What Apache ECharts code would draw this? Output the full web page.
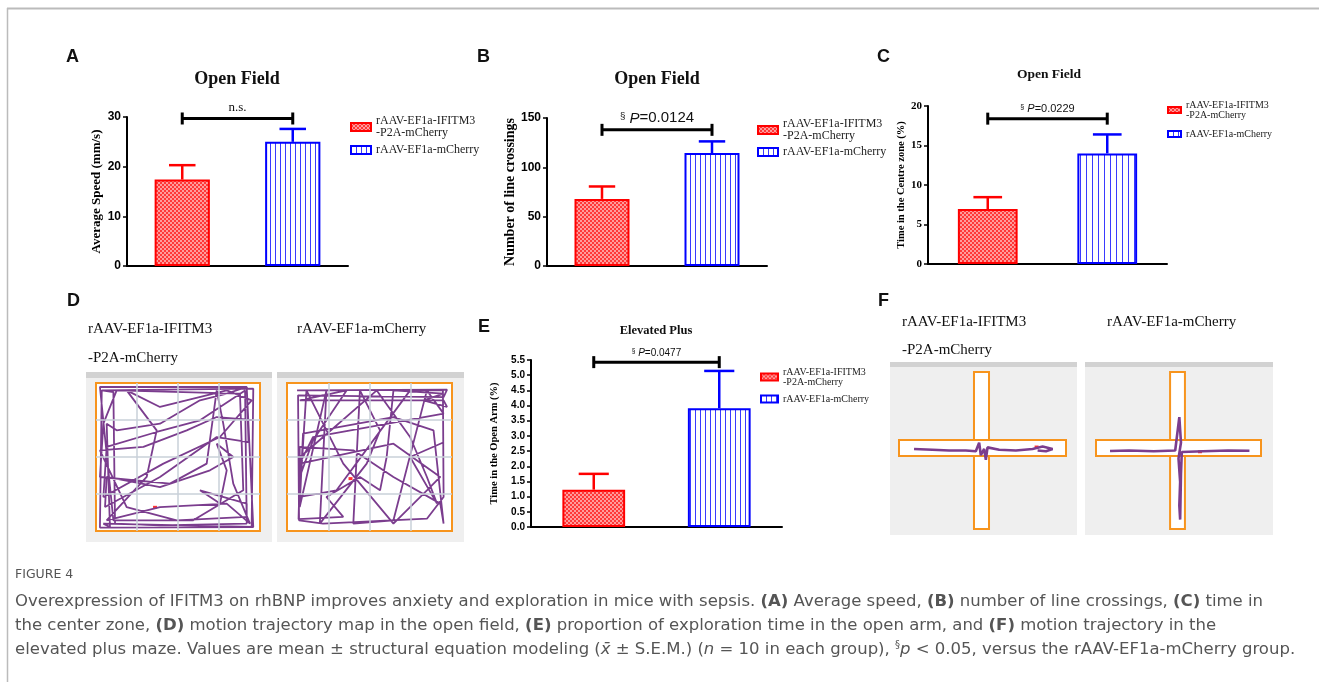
<!DOCTYPE html>
<html>
<head>
<meta charset="utf-8">
<script src="https://cdn.jsdelivr.net/npm/echarts@6/dist/echarts.min.js"></script>
<style>
  html, body { margin: 0; padding: 0; background: #fff; }
  #main { width: 1319px; height: 682px; }
</style>
</head>
<body>
<div id="main"></div>
<script>
// groups (legend names)
const groups = ['rAAV-EF1a-IFITM3\n-P2A-mCherry', 'rAAV-EF1a-mCherry'];

// A: average speed
const speedMean = [17.4, 25.0];
const speedSem = [2.9, 2.6];
// B: line crossings
const crossMean = [68, 114.5];
const crossSem = [12.6, 11.8];
// C: time in centre zone
const centreMean = [6.96, 14.0];
const centreSem = [1.5, 2.4];
// E: time in open arm
const armMean = [1.23, 3.91];
const armSem = [0.52, 1.23];

// significance brackets: height + text
const sigY = [29.7, 138, 18.4, 5.43];
const sigText = ['n.s.', '{s|§} {i|P}=0.0124', '{s|§} {i|P}=0.0229', '{s|§} {i|P}=0.0477'];

// D: open field trajectories (0-100 arena units)
const trackD1 = [[3.5,95],[95.9,96.2],[94.9,2.7],[2.4,2.3],[3.5,95],[10.6,93.9],[11.6,5],[39,3.8],[91.9,5],[90.9,95],
  [63.4,74.8],[37,66.9],[6.5,56.8],[4.5,23],[41.1,45.5],[75.6,63.5],[94.9,88.3],[79.7,95],[39,83.8],[18.7,95],
  [37,68],[30.9,36.5],[6.5,7.2],[39,16.2],[79.7,18.5],[93.9,5],[83.7,32],[77.6,72.5],[73.6,95],[67.5,45.5],
  [45.1,32],[2.4,36.5],[4.5,72.5],[12.6,95],[87.8,92.8],[89.8,27.5],[59.3,7.2],[10.6,7.2],
  [2.4,97.3],[91.9,97.3],[95.9,2.7],[4.5,5],[8.5,2.7],[6.5,72.5],[12.6,68],[39,72.5],[63.4,88.3],[79.7,92.8],
  [91.9,97.3],[93,60],[91.9,59],[73.6,63.5],[39,36.5],[5.5,16.2],[6.5,36.5],[39,29.7],[69.5,41],[83.7,50],
  [73.6,59],[79.7,41],[75.6,18.5],[63.4,27.5],[91.9,18.5],[91.9,9.5],[49.2,7.2],[18.7,16.2],[2.4,54.5],
  [28.9,56.8],[55.3,68],[73.6,77],[95,75]];
const trackD2 = [[6.1,95],[97,95.5],[94.9,90.5],[6.7,91.7],[7.3,7.2],[21.9,5],[84.8,8.3],[94.9,23],[94.5,95],[74.6,95],
  [30,27.5],[7.7,23],[11.8,95],[34.1,45.5],[64.5,5],[84.8,27.5],[92.9,36.5],[64.5,59],[7.7,45.5],[15.8,63.5],
  [94.9,79.3],[84.8,95],[64.5,7.2],[40.2,5],[44.2,95],[56.4,68],[48.3,45.5],[19.9,5],[23.9,95],[7.7,16.2],
  [9.7,65.8],[64.5,77],[88.8,68],[94.9,5],
  [92.9,18.5],[64.5,36.5],[40.2,54.5],[7.7,56.8],[7.7,36.5],[15.8,61.3],[36.1,95],[7.7,88.3],[94.9,88.3],
  [97,83.8],[82.8,88.3],[94.9,92.8],[64.5,95],[60.4,50],[56.4,27.5],[44.2,36.5],[23.9,23],[34.1,9.5],[7,8],
  [8,50],[54.4,95],[74.6,63.5],[84.8,36.5],[90.9,18.5],[74.6,50],[95,60]];
const startD = [[36, 16], [38.5, 35.4]];
const arenaGrid = [25, 50, 75];

// F: elevated plus maze trajectories
const armV = [44.9, 53.9];
const armH = [46.5, 56.7];
const trackF1 = [[9,51],[20,50.5],[30,50],[40,50],[46,49.5],[48,55],[49,47],[51,51],[52,44],[53,52],[60,50.5],
  [70,50],[80,51],[86,52.5],[92,51],[88,49.5],[83,50]];
const trackF2 = [[8.5,49.7],[20,50],[35,49.5],[48,50],[50.5,71.3],[51.5,55],[50,45],[51,30],[50.5,15],[51,6],
  [51.5,35],[52,49],[65,49.5],[80,50],[93,49.8]];
const startF = [[82.4, 52.2], [63, 49.2]];

const SERIF = 'Liberation Serif';
const SANS = 'Liberation Sans';
const RED = '#ff0000';
const BLUE = '#0000ff';
const ORANGE = '#f7941d';
const PURPLE = '#7b3d8e';

function checks(cell) {
  const c = document.createElement('canvas');
  c.width = c.height = cell * 2;
  const g = c.getContext('2d');
  g.fillStyle = '#ff3838';
  g.fillRect(0, 0, cell * 2, cell * 2);
  g.fillStyle = '#ff9c9c';
  g.fillRect(0, 0, cell, cell);
  g.fillRect(cell, cell, cell, cell);
  return { image: c, repeat: 'repeat' };
}

function stripes(step) {
  const c = document.createElement('canvas');
  c.width = step; c.height = 4;
  const g = c.getContext('2d');
  g.fillStyle = '#fff';
  g.fillRect(0, 0, step, 4);
  g.fillStyle = '#3a3aff';
  g.fillRect(0, 0, 1, 4);
  return { image: c, repeat: 'repeat' };
}

const panels = [
  { mean: speedMean, sem: speedSem, max: 30, interval: 10, grid: [127, 117, 221, 149], name: 'Average Speed (mm/s)', nameSize: 13, nameGap: 24,
    tickFont: SANS, tickSize: 12, stripe: 5, cell: 2, sigSize: 13, sigFont: SERIF, legend: [345, 110, 5, 12, 20, 8] },
  { mean: crossMean, sem: crossSem, max: 150, interval: 50, grid: [547, 118, 220, 148], name: 'Number of line crossings', nameSize: 14, nameGap: 30,
    tickFont: SANS, tickSize: 12, stripe: 5, cell: 2, sigSize: 15, sigFont: SANS, legend: [752, 113, 4, 12, 20, 8] },
  { mean: centreMean, sem: centreSem, max: 20, interval: 5, grid: [928, 106, 239, 158], name: 'Time in the Centre zone (%)', nameSize: 10.5, nameGap: 20,
    tickFont: SERIF, tickSize: 11, stripe: 6, cell: 2, sigSize: 11, sigFont: SANS, legend: [1162, 95, 9, 10, 13, 6] },
  { mean: armMean, sem: armSem, max: 5.5, interval: 0.5, grid: [531, 360, 251, 167], name: 'Time in the Open Arm (%)', nameSize: 10.5, nameGap: 31,
    tickFont: SANS, tickSize: 10, stripe: 5, cell: 2, sigSize: 10, sigFont: SANS, legend: [755, 362, 7, 10, 17, 7] }
];

const grid = [], xAxis = [], yAxis = [], series = [], legend = [];

panels.forEach((p, i) => {
  grid.push({ left: p.grid[0], top: p.grid[1], width: p.grid[2], height: p.grid[3] });
  xAxis.push({
    type: 'category', gridIndex: i, data: ['g1', 'g2'],
    axisLine: { lineStyle: { color: '#000', width: 2 } },
    axisTick: { alignWithLabel: true, length: 5, lineStyle: { color: '#000', width: 1.5 } },
    axisLabel: { show: false }
  });
  yAxis.push({
    type: 'value', gridIndex: i, min: 0, max: p.max, interval: p.interval,
    axisLine: { show: true, lineStyle: { color: '#000', width: 2 } },
    axisTick: { show: true, length: 4, lineStyle: { color: '#000', width: 1.5 } },
    axisLabel: { color: '#000', fontFamily: p.tickFont, fontWeight: 'bold', fontSize: p.tickSize, margin: 6,
      formatter: v => (p.interval < 1 ? v.toFixed(1) : String(v)) },
    splitLine: { show: false },
    name: p.name, nameLocation: 'middle', nameRotate: 90, nameGap: p.nameGap,
    nameTextStyle: { color: '#000', fontFamily: SERIF, fontWeight: 'bold', fontSize: p.nameSize }
  });
  const red = checks(p.cell), blue = stripes(p.stripe);
  series.push({
    type: 'bar', name: groups[0], xAxisIndex: i, yAxisIndex: i, data: [p.mean[0], '-'],
    barWidth: '50%', barGap: '-100%', itemStyle: { color: red, borderColor: RED, borderWidth: 2 }
  });
  series.push({
    type: 'bar', name: groups[1], xAxisIndex: i, yAxisIndex: i, data: ['-', p.mean[1]],
    barWidth: '50%', barGap: '-100%', itemStyle: { color: blue, borderColor: BLUE, borderWidth: 2 }
  });
  // error bars (upper half only)
  series.push({
    type: 'custom', xAxisIndex: i, yAxisIndex: i, z: 3,
    data: p.mean.map((m, k) => [k, m, p.sem[k]]),
    renderItem: (params, api) => {
      const k = api.value(0), m = api.value(1), s = api.value(2);
      const a = api.coord([k, m]), b = api.coord([k, m + s]);
      const half = api.size([1, 0])[0] * 0.12;
      const col = k === 0 ? RED : BLUE;
      return { type: 'group', children: [
        { type: 'line', shape: { x1: a[0], y1: a[1], x2: b[0], y2: b[1] }, style: { stroke: col, lineWidth: 2.5 } },
        { type: 'line', shape: { x1: b[0] - half, y1: b[1], x2: b[0] + half, y2: b[1] }, style: { stroke: col, lineWidth: 2.5 } }
      ] };
    }
  });
  // significance bracket
  series.push({
    type: 'custom', xAxisIndex: i, yAxisIndex: i, z: 3,
    data: [[0, sigY[i]]],
    renderItem: (params, api) => {
      const y = api.value(1);
      const a = api.coord([0, y]), b = api.coord([1, y]);
      const st = { stroke: '#000', lineWidth: 3 };
      return { type: 'group', children: [
        { type: 'line', shape: { x1: a[0], y1: a[1], x2: b[0], y2: b[1] }, style: st },
        { type: 'line', shape: { x1: a[0], y1: a[1] - 6, x2: a[0], y2: a[1] + 6 }, style: st },
        { type: 'line', shape: { x1: b[0], y1: b[1] - 6, x2: b[0], y2: b[1] + 6 }, style: st },
        { type: 'text', x: (a[0] + b[0]) / 2, y: a[1] - 4, style: {
          text: sigText[i], align: 'center', verticalAlign: 'bottom', fill: '#111',
          fontFamily: p.sigFont, fontSize: p.sigSize,
          rich: { s: { fontSize: p.sigSize * 0.65, verticalAlign: 'top', fontFamily: p.sigFont },
                  i: { fontStyle: 'italic', fontSize: p.sigSize, fontFamily: p.sigFont } }
        } }
      ] };
    }
  });
  legend.push({
    orient: 'vertical', left: p.legend[0], top: p.legend[1], itemGap: p.legend[2],
    itemWidth: p.legend[4], itemHeight: p.legend[5], icon: 'rect', selectedMode: false,
    data: groups,
    textStyle: { fontFamily: SERIF, fontSize: p.legend[3], lineHeight: p.legend[3], color: '#222' }
  });
});

// D and F trajectory panels
const trackGrids = [
  { box: [96, 383, 164, 148], track: trackD1, start: startD[0], arena: true },
  { box: [287, 383, 165, 148], track: trackD2, start: startD[1], arena: true },
  { box: [899, 372, 167, 157], track: trackF1, start: startF[0], arena: false },
  { box: [1096, 372, 165, 157], track: trackF2, start: startF[1], arena: false }
];

trackGrids.forEach((t, j) => {
  const gi = panels.length + j;
  grid.push(t.arena
    ? { left: t.box[0], top: t.box[1], width: t.box[2], height: t.box[3], show: true, backgroundColor: '#fff', borderColor: ORANGE, borderWidth: 2 }
    : { left: t.box[0], top: t.box[1], width: t.box[2], height: t.box[3] });
  xAxis.push({ type: 'value', gridIndex: gi, min: 0, max: 100, show: false });
  yAxis.push({ type: 'value', gridIndex: gi, min: 0, max: 100, show: false });
  const base = {
    type: 'scatter', xAxisIndex: gi, yAxisIndex: gi, z: 1, silent: true,
    data: [t.start], symbol: 'rect', symbolSize: [4, 3], itemStyle: { color: '#ff0000' }
  };
  if (t.arena) {
    base.markLine = {
      silent: true, symbol: 'none', label: { show: false }, animation: false,
      lineStyle: { color: '#c9d0d8', type: 'solid', width: 1.5 },
      data: arenaGrid.map(v => ({ xAxis: v })).concat(arenaGrid.map(v => ({ yAxis: v })))
    };
  } else {
    base.markArea = {
      silent: true, label: { show: false },
      itemStyle: { color: '#fff', borderColor: ORANGE, borderWidth: 2 },
      data: [
        [{ coord: [armV[0], 0] }, { coord: [armV[1], 100] }],
        [{ coord: [0, armH[0]] }, { coord: [100, armH[1]] }]
      ]
    };
  }
  series.push(base);
  series.push({
    type: 'line', xAxisIndex: gi, yAxisIndex: gi, z: 2, silent: true, data: t.track,
    showSymbol: false, lineStyle: { color: PURPLE, width: t.arena ? 1.8 : 2.6 }
  });
});

function txt(x, y, text, size, family, weight, extra) {
  return Object.assign({ type: 'text', x, y, z: 10, style: {
    text, fontSize: size, fontFamily: family, fontWeight: weight || 'normal', fill: '#111',
    align: 'left', verticalAlign: 'middle'
  } }, extra || {});
}
function ctxt(x, y, text, size) {
  const t = txt(x, y, text, size, SERIF, 'bold');
  t.style.align = 'center';
  return t;
}
function rect(x, y, w, h, fill) {
  return { type: 'rect', z: -5, shape: { x, y, width: w, height: h }, style: { fill } };
}

const CAPF = 'DejaVu Sans';
const CAPS = 16.5;
const capStyle = { fontFamily: CAPF, fontSize: CAPS, fill: '#555' };
const capRich = { b: { fontWeight: 'bold', fontFamily: CAPF, fontSize: CAPS }, i: { fontStyle: 'italic', fontFamily: CAPF, fontSize: CAPS },
  s: { fontSize: 10, verticalAlign: 'top', fontFamily: CAPF } };
const captionLines = [
  'Overexpression of IFITM3 on rhBNP improves anxiety and exploration in mice with sepsis. {b|(A)} Average speed, {b|(B)} number of line crossings, {b|(C)} time in',
  'the center zone, {b|(D)} motion trajectory map in the open field, {b|(E)} proportion of exploration time in the open arm, and {b|(F)} motion trajectory in the',
  'elevated plus maze. Values are mean ± structural equation modeling ({i|x̄} ± S.E.M.) ({i|n} = 10 in each group), {s|§}{i|p} < 0.05, versus the rAAV-EF1a-mCherry group.'
];

const graphic = [
  { type: 'line', shape: { x1: 7, y1: 8.5, x2: 1319, y2: 8.5 }, style: { stroke: '#bbb', lineWidth: 2 } },
  { type: 'line', shape: { x1: 7.5, y1: 8, x2: 7.5, y2: 682 }, style: { stroke: '#bbb', lineWidth: 1.5 } },
  // panel letters
  txt(66, 57, 'A', 18, SANS, 'bold'), txt(477, 57, 'B', 18, SANS, 'bold'), txt(877, 57, 'C', 18, SANS, 'bold'),
  txt(67, 301, 'D', 18, SANS, 'bold'), txt(478, 327, 'E', 18, SANS, 'bold'), txt(878, 301, 'F', 18, SANS, 'bold'),
  // chart titles
  ctxt(237, 79, 'Open Field', 18), ctxt(657, 79, 'Open Field', 18), ctxt(1049, 75, 'Open Field', 13.5), ctxt(656, 331, 'Elevated Plus', 12.5),
  // trajectory panel labels
  txt(88, 329, 'rAAV-EF1a-IFITM3', 15, SERIF), txt(88, 358, '-P2A-mCherry', 15, SERIF), txt(297, 329, 'rAAV-EF1a-mCherry', 15, SERIF),
  txt(902, 322, 'rAAV-EF1a-IFITM3', 15, SERIF), txt(902, 350, '-P2A-mCherry', 15, SERIF), txt(1107, 322, 'rAAV-EF1a-mCherry', 15, SERIF),
  // panel backgrounds
  rect(86, 372, 186, 170, '#efefef'), rect(86, 372, 186, 6, '#d2d2d2'),
  rect(277, 372, 187, 170, '#efefef'), rect(277, 372, 187, 6, '#d2d2d2'),
  rect(890, 362, 187, 173, '#efefef'), rect(890, 362, 187, 5, '#d2d2d2'),
  rect(1085, 362, 188, 173, '#efefef'), rect(1085, 362, 188, 5, '#d2d2d2'),
  // caption
  { type: 'text', x: 15, y: 575, style: { text: 'FIGURE 4', fontFamily: CAPF, fontSize: 12.5, fill: '#555', verticalAlign: 'middle' } }
].concat(captionLines.map((l, k) => ({
  type: 'text', x: 15, y: 602 + k * 23.7,
  style: Object.assign({ text: l, rich: capRich, verticalAlign: 'middle' }, capStyle)
})));

const chart = echarts.init(document.getElementById('main'), null, { renderer: 'canvas' });
chart.setOption({
  animation: false,
  backgroundColor: '#fff',
  grid, xAxis, yAxis, series, legend, graphic
});
</script>
</body>
</html>
